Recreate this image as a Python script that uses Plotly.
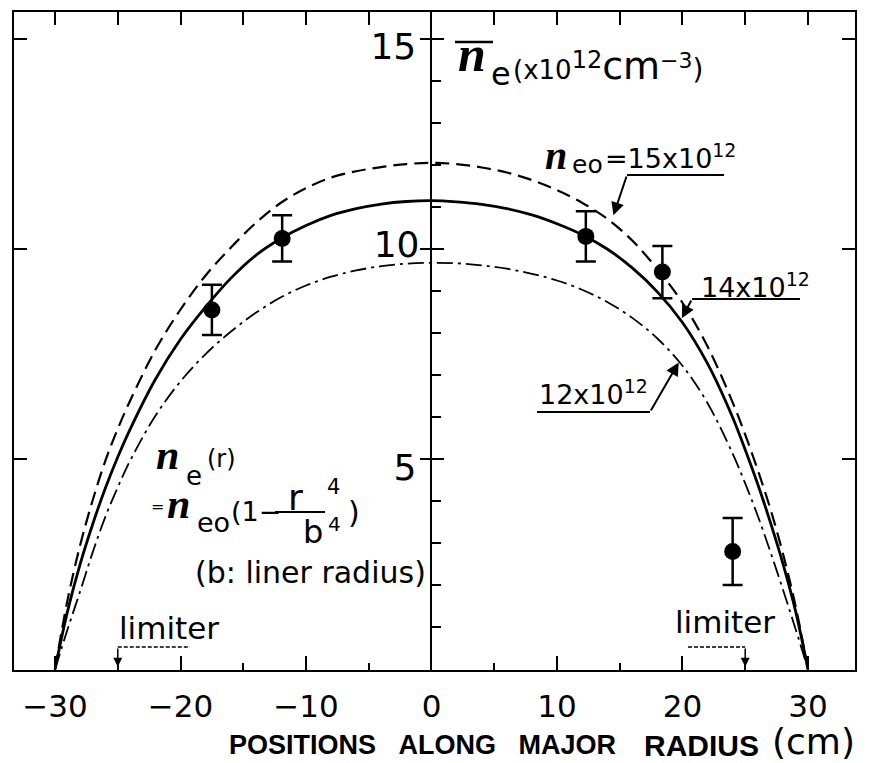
import plotly.graph_objects as go

# ---------------------------------------------------------------------------
# Chord-averaged electron density versus chord position along the major radius
# ---------------------------------------------------------------------------

# chord positions (cm) at which the model curves are tabulated
x_model = [-30, -29, -28, -27, -26, -25, -24, -22, -20, -18, -16, -14, -12, -10, -8, -6, -4, -2,
           0, 2, 4, 6, 8, 10, 12, 14, 16, 18, 20, 22, 24, 25, 26, 27, 28, 29, 30]

# model line densities (x10^12 cm^-3) for n_e0 = 15, 14 and 12 x10^12
ne_15 = [0, 1.65, 2.95, 4.02, 4.95, 5.72, 6.4, 7.6, 8.56, 9.37, 10.03, 10.62, 11.1, 11.45, 11.7, 11.85, 11.95, 12.02,
         12.05, 12.02, 11.94, 11.82, 11.64, 11.4, 11.1, 10.72, 10.2, 9.52, 8.72, 7.68, 6.35, 5.58, 4.74, 3.82, 2.76, 1.52, 0]
ne_14 = [0, 1.38, 2.5, 3.45, 4.3, 5.05, 5.72, 6.9, 7.85, 8.62, 9.3, 9.85, 10.25, 10.56, 10.8, 10.96, 11.07, 11.13,
         11.15, 11.12, 11.06, 10.96, 10.81, 10.6, 10.34, 10.0, 9.55, 8.98, 8.25, 7.27, 5.99, 5.22, 4.4, 3.5, 2.52, 1.4, 0]
ne_12 = [0, 0.95, 1.85, 2.78, 3.62, 4.33, 4.97, 6.03, 6.85, 7.5, 8.03, 8.48, 8.85, 9.13, 9.34, 9.49, 9.59, 9.65,
         9.67, 9.66, 9.61, 9.53, 9.41, 9.25, 9.03, 8.74, 8.36, 7.87, 7.22, 6.33, 5.13, 4.42, 3.65, 2.8, 1.9, 0.97, 0]

# measured chord densities with error bars
x_meas = [-17.5, -11.9, 12.3, 18.4, 24.0]
ne_meas = [8.55, 10.25, 10.3, 9.45, 2.8]
ne_err = [0.6, 0.55, 0.6, 0.62, 0.8]

# limiter positions (cm)
x_limiter = [-25, 25]

# axis ticks
x_major_ticks = [-30, -20, -10, 0, 10, 20, 30]
x_minor_ticks = [-25, -15, -5, 5, 15, 25]
x_top_ticks = [-30, -25, -20, -15, -10, -5, 5, 10, 15, 20, 25, 30]
y_major_ticks = [5, 10, 15]
y_text_outer = ["5", "", "15"]
y_text_middle = ["", "10", ""]
y_minor_ticks = [1, 2, 3, 4, 6, 7, 8, 9, 11, 12, 13, 14]

XR = [-33.27, 33.75]
YR = [-0.02, 15.64]
W, H = 881, 763
ML, MR, MT, MB = 14, 26, 12, 93
PW, PH = W - ML - MR, H - MT - MB

SANS = "DejaVu Sans"
SERIF = "Liberation Serif"
BOLD = "Liberation Sans"


def px_x(px):
    """pixel column -> paper fraction"""
    return (px - ML) / PW


def px_y(py):
    """pixel row -> paper fraction"""
    return (H - MB - py) / PH


def dat_x(px):
    return XR[0] + px_x(px) * (XR[1] - XR[0])


def dat_y(py):
    return YR[0] + px_y(py) * (YR[1] - YR[0])


fig = go.Figure()

fig.add_trace(go.Scatter(x=x_model, y=ne_15, mode="lines", line_shape="spline",
                         line=dict(color="black", width=2.2, dash="14px,7px"), hoverinfo="skip"))
fig.add_trace(go.Scatter(x=x_model, y=ne_14, mode="lines", line_shape="spline",
                         line=dict(color="black", width=2.8), hoverinfo="skip"))
fig.add_trace(go.Scatter(x=x_model, y=ne_12, mode="lines", line_shape="spline",
                         line=dict(color="black", width=1.8, dash="16px,5px,3px,5px"), hoverinfo="skip"))
fig.add_trace(go.Scatter(x=x_meas, y=ne_meas, mode="markers",
                         marker=dict(color="black", size=17, symbol="circle"),
                         error_y=dict(type="data", array=ne_err, visible=True, color="black",
                                      thickness=2.5, width=10)))

# invisible anchors so the top frame axis and the central density axis get drawn
for xa, ya in (("x2", "y"), ("x", "y2"), ("x", "y3")):
    fig.add_trace(go.Scatter(x=[0], y=[0], xaxis=xa, yaxis=ya, mode="markers",
                             marker=dict(opacity=0, size=1), hoverinfo="skip", showlegend=False))

ann = []
shapes = []


def txt(text, px, py, size, family=SANS, xanchor="center", yanchor="middle"):
    ann.append(dict(text=text, x=px_x(px), y=px_y(py), xref="paper", yref="paper",
                    showarrow=False, xanchor=xanchor, yanchor=yanchor,
                    font=dict(family=family, size=size, color="black")))


def arrow(x_tail, y_tail, x_tip, y_tip, width=2.0, size=1.3):
    ann.append(dict(text="", x=x_tip, y=y_tip, ax=x_tail, ay=y_tail, xref="x", yref="y",
                    axref="x", ayref="y", showarrow=True, arrowhead=2, arrowsize=size,
                    arrowwidth=width, arrowcolor="black"))


def seg(x0, y0, x1, y1, width=2.0, dash="solid", ref="data"):
    if ref == "data":
        shapes.append(dict(type="line", x0=x0, y0=y0, x1=x1, y1=y1, xref="x", yref="y",
                           line=dict(color="black", width=width, dash=dash)))
    else:
        shapes.append(dict(type="line", x0=px_x(x0), y0=px_y(y0), x1=px_x(x1), y1=px_y(y1),
                           xref="paper", yref="paper",
                           line=dict(color="black", width=width, dash=dash)))


# --- y-axis title:  n̄e (x10^12 cm^-3)
txt("<b><i>n</i></b>", 472, 54, 50, family=SERIF)
seg(455, 42, 493, 42, width=2.5, ref="px")
txt("e", 501, 74, 32)
txt("(x10<sup><span style=\"font-size:24px\">12</span></sup>"
    "<span style=\"font-size:38px\">cm</span>"
    "<sup><span style=\"font-size:22px\">−3</span></sup>"
    "<span style=\"font-size:28px\">)</span>", 511, 66, 26, xanchor="left")

# --- curve labels
txt("<b><i>n</i></b>", 556, 155, 40, family=SERIF)
txt("eo", 570, 165, 25, xanchor="left")
txt("=15x10<sup>12</sup>", 603, 157, 27, xanchor="left")
seg(dat_x(627), dat_y(175), dat_x(724), dat_y(175), width=2)
arrow(dat_x(627), dat_y(175), 14.5, 10.8)

txt("14x10<sup>12</sup>", 699, 285, 27, xanchor="left")
seg(dat_x(692), dat_y(299), dat_x(800), dat_y(299), width=2)
arrow(dat_x(692), dat_y(299), 19.95, 8.35)

txt("12x10<sup>12</sup>", 537, 392, 27, xanchor="left")
seg(dat_x(537), dat_y(412), dat_x(650), dat_y(412), width=2)
arrow(dat_x(650), dat_y(412), 19.7, 7.3)

# --- profile formula
txt("<b><i>n</i></b>", 167, 455, 42, family=SERIF)
txt("e", 194, 476, 26)
txt("(r)", 205, 459, 24, xanchor="left")
txt("=", 157, 506, 16)
txt("<b><i>n</i></b>", 178, 504, 42, family=SERIF)
txt("eo", 195, 522, 27, xanchor="left")
txt("(1−", 229, 511, 27, xanchor="left")
seg(275, 512, 325, 512, width=2, ref="px")
txt("r", 295, 497, 36)
txt("4", 333, 487, 21)
txt("b", 313, 532, 32)
txt("4", 334, 524, 20)
txt(")", 354, 512, 30)
txt("(b: liner radius)", 310, 572, 30)

# --- limiter markers
txt("limiter", 169, 628, 31)
txt("limiter", 725, 622, 31)
seg(x_limiter[0], dat_y(647), dat_x(190), dat_y(647), width=1.5, dash="4px,2px")
seg(dat_x(688), dat_y(647), x_limiter[1], dat_y(647), width=1.5, dash="4px,2px")
for xl in x_limiter:
    arrow(xl, dat_y(647), xl, 0.06, width=1.5, size=1.2)

# --- x-axis title
txt("<b>POSITIONS\u00a0\u00a0\u00a0ALONG\u00a0\u00a0\u00a0MAJOR</b>", 227, 745, 27, family=BOLD, xanchor="left")
txt("<b>RADIUS</b>", 701, 745, 30, family=BOLD)
txt("(cm)", 770, 742, 36, xanchor="left")

x0_frac = (0 - XR[0]) / (XR[1] - XR[0])

fig.update_layout(
    width=W, height=H,
    margin=dict(l=ML, r=MR, t=MT, b=MB, pad=0),
    paper_bgcolor="white", plot_bgcolor="white",
    showlegend=False,
    font=dict(family=SANS, color="black"),
    xaxis=dict(range=XR, showgrid=False, zeroline=False, showline=True, linewidth=2, linecolor="black",
               ticks="inside", ticklen=14, tickwidth=2, tickcolor="black",
               tickmode="array", tickvals=x_major_ticks, tickfont=dict(size=31, family=SANS),
               ticklabelstandoff=8,
               minor=dict(ticks="inside", ticklen=7, tickwidth=2, tickcolor="black",
                          tickmode="array", tickvals=x_minor_ticks)),
    xaxis2=dict(range=XR, overlaying="x", side="top", anchor="y", showgrid=False, zeroline=False,
                showline=True, linewidth=2, linecolor="black",
                ticks="inside", ticklen=13, tickwidth=2, tickcolor="black",
                tickmode="array", tickvals=x_top_ticks, showticklabels=False),
    yaxis=dict(range=YR, showgrid=False, zeroline=False, showline=True, linewidth=2, linecolor="black",
               mirror="ticks", ticks="inside", ticklen=13, tickwidth=2, tickcolor="black",
               tickmode="array", tickvals=y_major_ticks, showticklabels=False),
    # central density axis: major ticks crossing to the left, unit ticks to the right
    yaxis2=dict(range=YR, overlaying="y", anchor="free", position=x0_frac, side="left",
                showgrid=False, zeroline=False, showline=True, linewidth=2, linecolor="black",
                ticks="outside", ticklen=10, tickwidth=2, tickcolor="black",
                tickmode="array", tickvals=y_major_ticks, ticktext=y_text_outer,
                tickfont=dict(size=36, family=SANS),
                ticklabelshift=8, ticklabelstandoff=-3,
                minor=dict(ticks="inside", ticklen=9, tickwidth=1.5, tickcolor="black",
                           tickmode="array", tickvals=y_minor_ticks)),
    yaxis3=dict(range=YR, overlaying="y", anchor="free", position=x0_frac, side="left",
                showgrid=False, zeroline=False, showline=False,
                ticks="inside", ticklen=12, tickwidth=2, tickcolor="black",
                tickmode="array", tickvals=y_major_ticks, ticktext=y_text_middle,
                tickfont=dict(size=36, family=SANS),
                ticklabelshift=-5, ticklabelstandoff=12),
    annotations=ann,
    shapes=shapes,
)

fig.write_html("out.html")
